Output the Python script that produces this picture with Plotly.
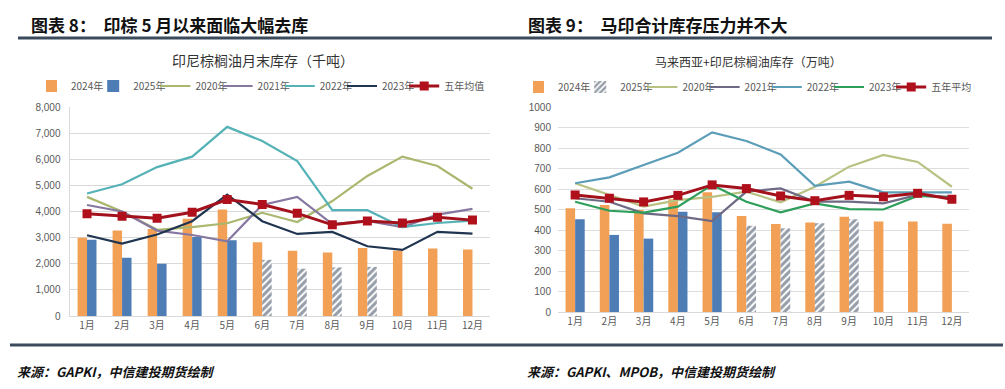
import plotly.graph_objects as go

W, H = 1005, 389

months = ["1月", "2月", "3月", "4月", "5月", "6月", "7月", "8月", "9月", "10月", "11月", "12月"]

# Left chart: Indonesia palm oil month-end stocks (thousand tonnes)
l_2024 = [3000, 3270, 3330, 3720, 4080, 2820, 2500, 2430, 2600, 2500, 2580, 2550]
l_2025 = [2920, 2230, 2000, 3020, 2900, 2150, 1810, 1860, 1880, None, None, None]
l_2020 = [4560, 4000, 3300, 3400, 3550, 3950, 3600, 4400, 5360, 6100, 5740, 4870]
l_2021 = [4250, 4000, 3270, 3100, 2860, 4250, 4560, 3520, 3640, 3400, 3880, 4100]
l_2022 = [4690, 5040, 5700, 6100, 7240, 6700, 5930, 4050, 4050, 3400, 3560, 3650]
l_2023 = [3090, 2770, 3120, 3630, 4650, 3630, 3140, 3220, 2670, 2530, 3220, 3150]
l_avg = [3910, 3820, 3740, 3970, 4460, 4270, 3930, 3490, 3640, 3560, 3780, 3670]

# Right chart: Malaysia + Indonesia palm oil stocks (10k tonnes)
r_2024 = [506, 522, 498, 550, 584, 468, 429, 436, 465, 441, 442, 431]
r_2025 = [452, 376, 358, 489, 486, 421, 408, 433, 452, None, None, None]
r_2020 = [628, 571, 514, 546, 562, 587, 535, 611, 709, 766, 732, 611]
r_2021 = [555, 538, 481, 468, 444, 587, 603, 538, 538, 530, 571, 560]
r_2022 = [628, 657, 717, 777, 876, 834, 769, 615, 636, 584, 584, 584]
r_2023 = [538, 494, 485, 514, 620, 538, 486, 530, 502, 500, 566, 558]
r_avg = [571, 555, 537, 569, 620, 602, 566, 543, 569, 562, 579, 550]

hatched_from = 5  # index from which 2025 bars are hatched (June onward)

def px(x):
    return x / W

def py(y):
    return 1 - y / H

ORANGE = "#F2A055"
BLUE = "#4E7DB6"
HATCH = "#2C3C54"
CJK = "Noto Sans CJK SC"

fig = go.Figure()

def split(vals, solid):
    if solid:
        return [v if i < hatched_from else None for i, v in enumerate(vals)]
    return [v if i >= hatched_from else None for i, v in enumerate(vals)]

def add_chart(ax, leg, v24, v25, lines, avg, avg_name, bw, legend_hatched):
    xa, ya = ("x", "y") if ax == 1 else ("x2", "y2")
    fig.add_trace(go.Bar(x=months, y=v24, name="2024年", marker=dict(color=ORANGE, line_width=0),
                         width=bw, offset=-bw, xaxis=xa, yaxis=ya, legend=leg))
    solid = go.Bar(x=months, y=split(v25, True), name="2025年", marker=dict(color=BLUE, line_width=0),
                   width=bw, offset=0, xaxis=xa, yaxis=ya, legend=leg, showlegend=not legend_hatched)
    hatch = go.Bar(x=months, y=split(v25, False), name="2025年",
                   marker=dict(color="white", line_width=0,
                               pattern=dict(shape="/", fgcolor=HATCH, bgcolor="white", size=5, solidity=0.6)),
                   width=bw, offset=0, xaxis=xa, yaxis=ya, legend=leg, showlegend=legend_hatched)
    if legend_hatched:
        fig.add_trace(hatch)
        fig.add_trace(solid)
    else:
        fig.add_trace(solid)
        fig.add_trace(hatch)
    for name, vals, color in lines:
        fig.add_trace(go.Scatter(x=months, y=vals, name=name, mode="lines",
                                 line=dict(color=color, width=2.2), xaxis=xa, yaxis=ya, legend=leg))
    fig.add_trace(go.Scatter(x=months, y=avg, name=avg_name, mode="lines+markers",
                             line=dict(color="#A3121C", width=3),
                             marker=dict(symbol="square", size=9, color="#B0101C"),
                             xaxis=xa, yaxis=ya, legend=leg))

add_chart(1, "legend", l_2024, l_2025,
          [("2020年", l_2020, "#A9B86E"), ("2021年", l_2021, "#8678A0"),
           ("2022年", l_2022, "#55B2B6"), ("2023年", l_2023, "#1F3550")],
          l_avg, "五年均值", 0.27, False)
add_chart(2, "legend2", r_2024, r_2025,
          [("2020年", r_2020, "#B7C283"), ("2021年", r_2021, "#6E6A84"),
           ("2022年", r_2022, "#5B9DB8"), ("2023年", r_2023, "#2E9E5B")],
          r_avg, "五年平均", 0.28, True)

tickfont = dict(family="Liberation Sans", size=10, color="#595959")
catfont = dict(family=CJK, size=10, color="#595959")

fig.update_layout(
    width=W, height=H,
    margin=dict(l=0, r=0, t=0, b=0, autoexpand=False),
    paper_bgcolor="white", plot_bgcolor="white",
    barmode="overlay",
    xaxis=dict(domain=[px(69.5), px(490)], anchor="y", tickfont=catfont, showgrid=False,
               range=[-0.5, 11.5], autorange=False,
               showline=True, linecolor="#D9D9D9", linewidth=1, ticks="", automargin=False),
    yaxis=dict(domain=[py(316), py(107)], anchor="x", range=[0, 8000], dtick=1000,
               tickformat=",d", tickfont=tickfont, gridcolor="#D9D9D9", gridwidth=1,
               showline=True, linecolor="#D9D9D9", zeroline=False, ticks="", ticklabelstandoff=6,
               automargin=False),
    xaxis2=dict(domain=[px(558), px(969)], anchor="y2", tickfont=catfont, showgrid=False,
                range=[-0.5, 11.5], autorange=False,
                showline=True, linecolor="#D9D9D9", linewidth=1, ticks="", automargin=False),
    yaxis2=dict(domain=[py(312), py(107)], anchor="x2", range=[0, 1000], dtick=100,
                tickformat="d", tickfont=tickfont, gridcolor="#DDDDDD", gridwidth=1,
                showline=False, zeroline=False, ticks="", ticklabelstandoff=6, automargin=False),
    legend=dict(orientation="h", x=px(268), y=py(86), xanchor="center", yanchor="middle",
                font=dict(family=CJK, size=10, color="#595959"), bgcolor="rgba(0,0,0,0)",
                itemwidth=30, indentation=-15, traceorder="normal", tracegroupgap=0),
    legend2=dict(orientation="h", x=px(755), y=py(87), xanchor="center", yanchor="middle",
                 font=dict(family=CJK, size=10, color="#595959"), bgcolor="rgba(0,0,0,0)",
                 itemwidth=30, indentation=-15, traceorder="normal", tracegroupgap=0),
    showlegend=True,
)

ann = []
ann.append(dict(text="<b>图表 8：  印棕 5 月以来面临大幅去库</b>", x=px(29), y=py(25), xanchor="left",
                yanchor="middle", font=dict(family=CJK, size=17, color="#111111")))
ann.append(dict(text="<b>图表 9：  马印合计库存压力并不大</b>", x=px(526), y=py(25), xanchor="left",
                yanchor="middle", font=dict(family=CJK, size=17, color="#111111")))
ann.append(dict(text="印尼棕榈油月末库存（千吨）", x=px(263), y=py(60), xanchor="center",
                yanchor="middle", font=dict(family=CJK, size=14, color="#333333")))
ann.append(dict(text="马来西亚+印尼棕榈油库存（万吨）", x=px(748), y=py(61), xanchor="center",
                yanchor="middle", font=dict(family=CJK, size=12, color="#333333")))
ann.append(dict(text="<b><i>来源：GAPKI，中信建投期货绘制</i></b>", x=px(15), y=py(371), xanchor="left",
                yanchor="middle", font=dict(family=CJK, size=13, color="#111111")))
ann.append(dict(text="<b><i>来源：GAPKI、MPOB，中信建投期货绘制</i></b>", x=px(525), y=py(371), xanchor="left",
                yanchor="middle", font=dict(family=CJK, size=13, color="#111111")))
for a in ann:
    a.update(xref="paper", yref="paper", showarrow=False)
fig.update_layout(annotations=ann)

fig.update_layout(shapes=[
    dict(type="line", xref="paper", yref="paper", x0=px(18), x1=px(992), y0=py(38), y1=py(38),
         line=dict(color="#3B4B5C", width=3)),
    dict(type="line", xref="paper", yref="paper", x0=px(10), x1=px(1003), y0=py(345), y1=py(345),
         line=dict(color="#3B4B5C", width=3)),
])

fig.write_html("out.html", config={"displayModeBar": False},
               post_script="document.body.style.margin='0';")
